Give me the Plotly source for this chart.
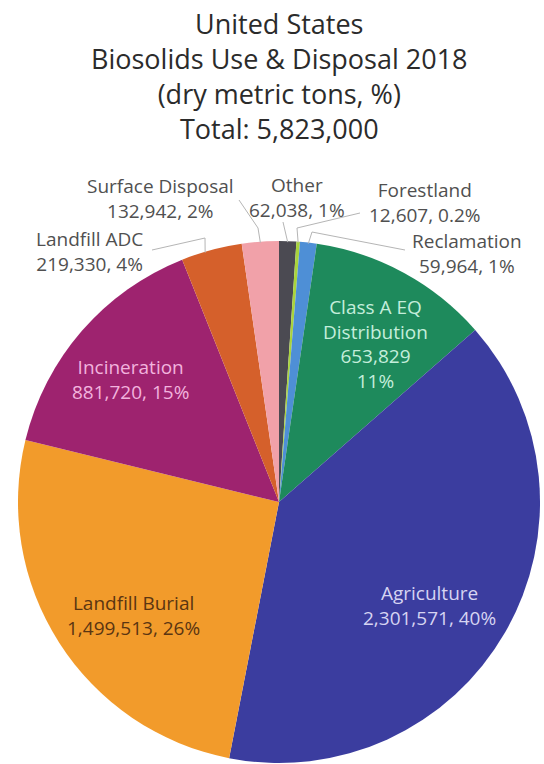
import math
import plotly.graph_objects as go

# ---------------- data ----------------
categories = ["Other", "Forestland", "Reclamation", "Class A EQ Distribution",
              "Agriculture", "Landfill Burial", "Incineration", "Landfill ADC",
              "Surface Disposal"]
values = [62038, 12607, 59964, 653829, 2301571, 1499513, 881720, 219330, 132942]
colors = ["#4b4a52", "#a9d43c", "#4e8fd6", "#1e8a5c", "#3b3d9f",
          "#f29b2b", "#9e236f", "#d5602b", "#f1a1a9"]
title_lines = ["United States", "Biosolids Use & Disposal 2018",
               "(dry metric tons, %)", "Total: 5,823,000"]

W, H = 544, 764
FONT = "Open Sans"

# pie geometry (pixels)
PCX, PCY, R = 279, 502, 261
dom_x = [(PCX - R) / W, (PCX + R) / W]
dom_y = [1 - (PCY + R) / H, 1 - (PCY - R) / H]

fig = go.Figure(go.Pie(
    labels=categories, values=values, sort=False, direction="clockwise",
    rotation=0, marker=dict(colors=colors, line=dict(width=0)),
    textinfo="none", hoverinfo="label+value+percent",
    domain=dict(x=dom_x, y=dom_y), showlegend=False,
))

total = sum(values)


def pct(v):
    p = 100 * v / total
    return f"{p:.1f}%" if p < 1 else f"{round(p)}%"


def px(x):
    return x / W


def py(y):
    return 1 - y / H


annotations = []


def add_block(lines, cx, cy, color, size):
    annotations.append(dict(
        text="<br>".join(lines), x=px(cx), y=py(cy), xref="paper", yref="paper",
        xanchor="center", yanchor="middle", align="center", showarrow=False,
        font=dict(family=FONT, size=size, color=color)))


# title
add_block(title_lines, 279, 76, "#2b2b2b", 27)

idx = {c: i for i, c in enumerate(categories)}


def lbl(c, name=None):
    v = values[idx[c]]
    return [name or c, f"{v:,}, {pct(v)}"]


LBL = "#505050"
LS = 19
# outside labels
add_block(lbl("Surface Disposal"), 160, 198, LBL, LS)
add_block(lbl("Other"), 297, 197, LBL, LS)
add_block(lbl("Forestland"), 425, 202, LBL, LS)
add_block(lbl("Reclamation"), 467, 253, LBL, LS)
add_block(lbl("Landfill ADC"), 89, 251, LBL, LS)

# inside labels
v_ca = values[idx["Class A EQ Distribution"]]
add_block(["Class A EQ", "Distribution", f"{v_ca:,}", pct(v_ca)], 375, 344, "#c4eedb", LS)
add_block(lbl("Agriculture"), 429, 605, "#d6d4f2", LS)
add_block(lbl("Landfill Burial"), 133, 615, "#5a3512", LS)
add_block(lbl("Incineration"), 130, 379, "#f2b3de", LS)

# leader lines: start at slice edge (angle from data) -> elbow -> text
cum = 0
mid_angle = {}
for c, v in zip(categories, values):
    mid_angle[c] = (cum + v / 2) / total * 360
    cum += v


def edge(a, r=R):
    t = math.radians(a)
    return PCX + r * math.sin(t), PCY - r * math.cos(t)


leaders = {
    "Surface Disposal": (None, [(258, 228), (239, 200)]),
    "Other": (None, [(283, 222)]),
    "Forestland": (None, [(297, 228), (360, 213)]),
    "Reclamation": (None, [(312, 232), (405, 250)]),
    "Landfill ADC": (343.5, [(205, 238), (152, 250)]),
}
shapes = []
for c, (ang, pts) in leaders.items():
    a = mid_angle[c] if ang is None else ang
    x0, y0 = edge(a, R - 1)
    path = f"M {px(x0)} {py(y0)}"
    for (x, y) in pts:
        path += f" L {px(x)} {py(y)}"
    shapes.append(dict(type="path", path=path, xref="paper", yref="paper",
                       line=dict(color="#b5b5b5", width=1)))

fig.update_layout(
    width=W, height=H, margin=dict(l=0, r=0, t=0, b=0),
    paper_bgcolor="white", plot_bgcolor="white",
    annotations=annotations, shapes=shapes,
)
fig.write_html("out.html")
